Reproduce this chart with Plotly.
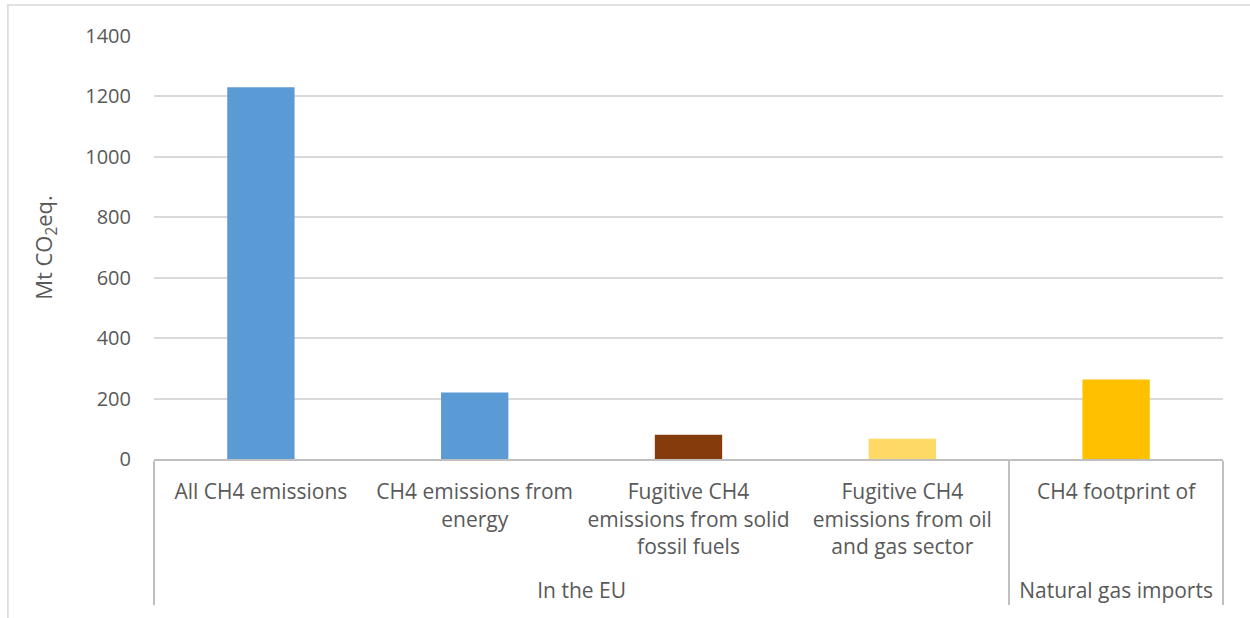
import plotly.graph_objects as go

# Category structure (group, item) and values in Mt CO2eq.
groups = ["In the EU", "In the EU", "In the EU", "In the EU", "Natural gas imports"]
items = [
    "All CH4 emissions",
    "CH4 emissions from<br>energy",
    "Fugitive CH4<br>emissions from solid<br>fossil fuels",
    "Fugitive CH4<br>emissions from oil<br>and gas sector",
    "CH4 footprint of",
]
values = [1230, 220, 80, 67, 263]
colors = ["#5B9BD5", "#5B9BD5", "#843C0C", "#FFD966", "#FFC000"]

y_ticks = [0, 200, 400, 600, 800, 1000, 1200, 1400]

text_color = "#595959"
grid_color = "#D9D9D9"
line_color = "#BFBFBF"
font_family = "Open Sans, Lato, sans-serif"


def pad_lines(label, n_lines=4):
    """Pad a tick label with blank lines so every item label has the same depth."""
    count = label.count("<br>") + 1
    return label + "<br> " * (n_lines - count)


fig = go.Figure(
    go.Bar(
        x=[groups, [pad_lines(t) for t in items]],
        y=values,
        marker=dict(color=colors, line=dict(width=0)),
        hoverinfo="y",
    )
)

fig.update_layout(
    width=1250,
    height=618,
    margin=dict(l=154, r=27, t=36, b=159),
    paper_bgcolor="white",
    plot_bgcolor="white",
    bargap=0.685,
    showlegend=False,
    font=dict(family=font_family, size=20, color=text_color),
    shapes=[
        # chart frame
        dict(
            type="rect", xref="paper", yref="paper",
            x0=-0.1367, x1=1.05, y0=-0.6, y1=1.073,
            line=dict(color="#D9D9D9", width=1.5), fillcolor="rgba(0,0,0,0)",
            layer="below",
        )
    ],
)

fig.update_xaxes(
    type="multicategory",
    showline=True,
    linecolor=line_color,
    linewidth=2,
    showgrid=False,
    ticks="",
    showdividers=True,
    dividercolor=line_color,
    dividerwidth=1.5,
    ticklabelstandoff=13,
    tickfont=dict(size=21, color=text_color),
)

fig.update_yaxes(
    range=[0, 1400],
    tickvals=y_ticks,
    showgrid=True,
    gridcolor=grid_color,
    gridwidth=1.5,
    zeroline=False,
    showline=False,
    ticks="",
    ticklabelstandoff=22,
    tickfont=dict(size=20, color=text_color),
    title=dict(text="Mt CO<sub>2</sub>eq.", font=dict(size=22, color=text_color), standoff=26),
)

fig.write_html("out.html")
